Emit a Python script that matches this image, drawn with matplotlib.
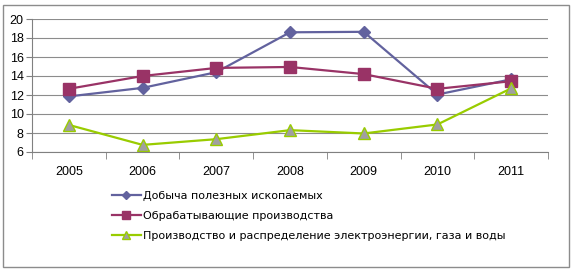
import numpy as np
import matplotlib
matplotlib.use("Agg")
import matplotlib.pyplot as plt
from matplotlib.patches import Rectangle

years = ["2005", "2006", "2007", "2008", "2009", "2010", "2011"]
mining = [11.85, 12.75, 14.4, 18.6, 18.65, 12.05, 13.65]
manufacturing = [12.65, 14.0, 14.85, 14.95, 14.2, 12.65, 13.45]
utilities = [8.85, 6.75, 7.35, 8.3, 7.95, 8.9, 12.7]
labels = ["Добыча полезных ископаемых",
          "Обрабатывающие производства",
          "Производство и распределение электроэнергии, газа и воды"]

plt.rcParams["font.family"] = ["Liberation Sans", "DejaVu Sans"]
fig = plt.figure(figsize=(5.76, 2.73), dpi=100)
ax = fig.add_axes([32 / 576, 1 - 152 / 273, (548 - 32) / 576, (152 - 19) / 273])

x = np.arange(len(years))
l1, = ax.plot(x, mining, color="#62629e", lw=1.6, marker="D", ms=6,
              mfc="#62629e", mec="#62629e")
l2, = ax.plot(x, manufacturing, color="#993366", lw=1.6, marker="s", ms=8,
              mfc="#993366", mec="#993366")
l3, = ax.plot(x, utilities, color="#99cc00", lw=1.6, marker="^", ms=8,
              mfc="#a0a0a0", mec="#99cc00")

ax.set_xlim(-0.5, len(years) - 0.5)
ax.set_ylim(6, 20)
ax.set_yticks(range(6, 21, 2))
ax.set_xticks(x)
ax.set_xticklabels(years)
ax.set_xticks(np.arange(-0.5, len(years)), minor=True)
ax.tick_params(axis="x", which="major", length=0, pad=10, labelsize=9)
ax.tick_params(axis="x", which="minor", length=5, color="#808080")
ax.tick_params(axis="y", length=4, color="#808080", labelsize=9, pad=2)
ax.grid(axis="y", color="#8c8c8c", lw=0.8)
ax.set_axisbelow(True)
for s in ["top", "right"]:
    ax.spines[s].set_visible(False)
for s in ["left", "bottom"]:
    ax.spines[s].set_color("#808080")

leg = ax.legend([l1, l2, l3], labels, loc="upper left",
                bbox_to_anchor=(112 / 576, 1 - 191 / 273), bbox_transform=fig.transFigure,
                frameon=False, prop={"family": "DejaVu Sans", "size": 8.0},
                handlelength=2.6, handletextpad=0.2, labelspacing=0.9,
                borderaxespad=0, borderpad=0, markerscale=0.65)

fig.patches.append(Rectangle((3 / 576, 1 - 267 / 273), 566 / 576, 262 / 273,
                             transform=fig.transFigure, fill=False,
                             edgecolor="#8c8c8c", lw=1))
fig.savefig("out.png", dpi=100)
